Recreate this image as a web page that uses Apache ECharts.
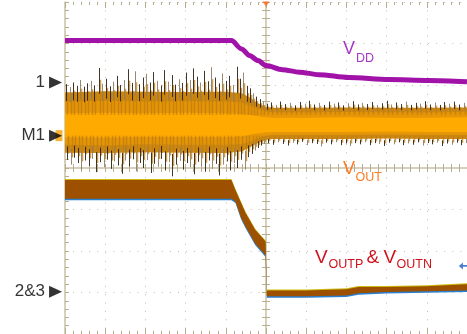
<!DOCTYPE html>
<html>
<head>
<meta charset="utf-8">
<script src="https://cdn.jsdelivr.net/npm/echarts@6/dist/echarts.min.js"></script>
<style>
  html, body { margin: 0; padding: 0; background: #ffffff; }
  #scope { width: 467px; height: 334px; }
</style>
</head>
<body>
<div id="scope"></div>
<script>
// All values are in screen divisions:
// x = time from the trigger point (-5 .. 5), y = offset from screen centre (-4 .. 4).

// VDD supply rail
const vddTime  = [-5, -0.86, -0.61, -0.41, -0.2, 0, 0.41, 0.83, 1.31, 2.06, 3.06, 4.05, 5];
const vddLevel = [3.07, 3.07, 2.87, 2.71, 2.59, 2.47, 2.37, 2.31, 2.25, 2.18, 2.13, 2.11, 2.08];

// VOUTP & VOUTN (overlapping, drawn as a thick band)
const outPNTime   = [-5, -0.86, -0.76, -0.62, -0.51, -0.27, -0.01, 0.02, 1, 2, 2.3, 3, 4, 5];
const outPNTop    = [-0.29, -0.29, -0.53, -0.84, -1.08, -1.49, -1.77, -2.95, -2.95, -2.92, -2.87, -2.87, -2.85, -2.80];
const outPNBottom = [-0.74, -0.74, -0.81, -1.20, -1.41, -1.82, -2.11, -3.09, -3.09, -3.07, -3.02, -2.99, -2.97, -2.95];

// VOUT ripple envelope (dense part of the trace)
const voutTime     = [-5, -4, -3, -2, -1, -0.6, -0.4, -0.2, 0, 0.2, 1, 2, 3, 4, 5];
const voutOuterTop = [1.82, 1.85, 1.84, 1.83, 1.84, 1.80, 1.70, 1.56, 1.47, 1.45, 1.45, 1.46, 1.45, 1.45, 1.46];
const voutOuterBot = [0.37, 0.36, 0.38, 0.37, 0.36, 0.40, 0.50, 0.60, 0.68, 0.70, 0.70, 0.70, 0.71, 0.70, 0.70];
const voutMidTop   = [1.60, 1.62, 1.60, 1.61, 1.60, 1.58, 1.50, 1.42, 1.36, 1.34, 1.34, 1.35, 1.34, 1.34, 1.35];
const voutMidBot   = [0.56, 0.55, 0.57, 0.56, 0.56, 0.58, 0.64, 0.72, 0.78, 0.80, 0.80, 0.80, 0.81, 0.80, 0.80];
const voutCoreTop  = [1.32, 1.33, 1.32, 1.33, 1.32, 1.30, 1.28, 1.25, 1.22, 1.21, 1.21, 1.22, 1.21, 1.21, 1.22];
const voutCoreBot  = [0.74, 0.73, 0.75, 0.74, 0.74, 0.76, 0.80, 0.84, 0.86, 0.87, 0.87, 0.87, 0.88, 0.87, 0.87];

// VOUT ripple peaks above the envelope [time, peak]
const voutPeaksUp = [
  [-4.97,2.02],[-4.88,1.95],[-4.80,2.06],[-4.71,1.98],[-4.62,2.12],[-4.53,1.96],[-4.45,2.04],[-4.36,2.10],
  [-4.27,1.99],[-4.16,2.41],[-4.07,2.03],[-3.98,2.15],[-3.89,1.97],[-3.80,2.08],[-3.71,2.22],[-3.62,2.00],
  [-3.53,2.12],[-3.43,2.38],[-3.34,2.05],[-3.25,2.33],[-3.16,2.02],[-3.07,2.18],[-2.98,2.27],[-2.89,2.06],
  [-2.80,2.31],[-2.71,2.10],[-2.62,1.99],[-2.53,2.36],[-2.44,2.08],[-2.35,2.24],[-2.26,2.01],[-2.17,2.14],
  [-2.08,2.05],[-1.99,2.30],[-1.90,2.12],[-1.81,2.40],[-1.72,2.20],[-1.63,2.06],[-1.54,2.34],[-1.45,2.09],
  [-1.36,2.43],[-1.27,2.18],[-1.18,2.04],[-1.09,2.28],[-1.00,2.10],[-0.91,2.22],[-0.82,2.00],[-0.73,2.44],
  [-0.64,2.15],[-0.56,2.30],[-0.48,1.98],[-0.40,1.92],[-0.32,1.80],[-0.24,1.72],[-0.16,1.66],[-0.08,1.60],
  [0.02,1.55],[0.12,1.58],[0.24,1.52],[0.36,1.60],[0.48,1.54],[0.60,1.57],[0.72,1.51],[0.84,1.59],
  [0.96,1.55],[1.08,1.62],[1.20,1.53],[1.32,1.57],[1.44,1.52],[1.56,1.60],[1.68,1.55],[1.80,1.58],
  [1.92,1.51],[2.04,1.56],[2.16,1.61],[2.28,1.53],[2.40,1.57],[2.52,1.54],[2.64,1.59],[2.76,1.52],
  [2.88,1.56],[3.00,1.62],[3.12,1.53],[3.24,1.58],[3.36,1.54],[3.48,1.60],[3.60,1.52],[3.72,1.57],
  [3.84,1.55],[3.96,1.61],[4.08,1.53],[4.20,1.58],[4.32,1.52],[4.44,1.59],[4.56,1.55],[4.68,1.60],
  [4.80,1.53],[4.92,1.57]
];

// VOUT ripple peaks below the envelope [time, peak]
const voutPeaksDown = [
  [-4.95,0.20],[-4.86,0.08],[-4.77,0.25],[-4.68,0.12],[-4.59,-0.05],[-4.50,0.18],[-4.41,0.05],[-4.32,0.22],
  [-4.22,-0.10],[-4.13,0.14],[-4.04,0.02],[-3.95,0.20],[-3.86,-0.02],[-3.77,0.16],[-3.68,0.06],[-3.59,-0.14],
  [-3.50,0.18],[-3.41,0.04],[-3.32,0.21],[-3.23,-0.08],[-3.14,0.12],[-3.05,0.00],[-2.96,0.19],[-2.87,-0.12],
  [-2.78,0.10],[-2.69,0.03],[-2.60,0.22],[-2.51,-0.06],[-2.42,0.14],[-2.33,-0.20],[-2.24,0.08],[-2.15,0.17],
  [-2.06,-0.04],[-1.97,0.12],[-1.88,0.02],[-1.79,-0.15],[-1.70,0.15],[-1.61,0.05],[-1.52,-0.09],[-1.43,0.18],
  [-1.34,-0.02],[-1.25,0.10],[-1.16,-0.18],[-1.07,0.08],[-0.98,0.16],[-0.89,-0.06],[-0.80,0.12],[-0.71,0.00],
  [-0.62,0.20],[-0.53,-0.04],[-0.44,0.26],[-0.36,0.34],[-0.28,0.42],[-0.20,0.48],[-0.12,0.54],[-0.04,0.58],
  [0.06,0.60],[0.18,0.56],[0.30,0.62],[0.42,0.58],[0.54,0.54],[0.66,0.61],[0.78,0.57],[0.90,0.63],
  [1.02,0.55],[1.14,0.60],[1.26,0.58],[1.38,0.52],[1.50,0.61],[1.62,0.57],[1.74,0.62],[1.86,0.55],
  [1.98,0.59],[2.10,0.53],[2.22,0.60],[2.34,0.57],[2.46,0.62],[2.58,0.55],[2.70,0.60],[2.82,0.58],
  [2.94,0.53],[3.06,0.61],[3.18,0.57],[3.30,0.62],[3.42,0.55],[3.54,0.59],[3.66,0.56],[3.78,0.62],
  [3.90,0.54],[4.02,0.60],[4.14,0.57],[4.26,0.61],[4.38,0.53],[4.50,0.59],[4.62,0.56],[4.74,0.61],
  [4.86,0.55],[4.98,0.60]
];

// Channel reference markers on the left edge
const markerNames = ['1', 'M1', '2&3'];
const markerLevel = [2.06, 0.78, -2.98];

const FONT = '"Liberation Sans", Arial, sans-serif';
const GRID_TAN = '#c9c1a6';
const TICK_TAN = '#b7ae90';
const DOT = '#c2bdae';

const chart = echarts.init(document.getElementById('scope'), null, { renderer: 'canvas' });

// Filled band between two traces, optionally shifted by a few pixels
function band(name, xs, tops, bots, color, z, shiftPx) {
  return {
    type: 'custom', name: name, z: z, silent: true, animation: false,
    data: xs.map((x, i) => [x, tops[i], bots[i]]),
    renderItem: function (params, api) {
      if (params.dataIndex !== 0) return null;
      const pts = [];
      for (let i = 0; i < xs.length; i++) {
        const p = api.coord([xs[i], tops[i]]);
        pts.push([p[0], p[1] + (shiftPx || 0)]);
      }
      for (let i = xs.length - 1; i >= 0; i--) {
        const p = api.coord([xs[i], bots[i]]);
        pts.push([p[0], p[1] + (shiftPx || 0)]);
      }
      return { type: 'polygon', shape: { points: pts }, style: { fill: color } };
    }
  };
}

// Ripple peaks: an orange streak from the bright core, ending in a dark hair at the peak
function peaks(name, data, start, z) {
  return {
    type: 'custom', name: name, z: z, silent: true, animation: false,
    data: data,
    renderItem: function (params, api) {
      const t = api.value(0), tip = api.value(1);
      const span = tip - start;
      const p0 = api.coord([t, start]);
      const pr = api.coord([t, start + 0.75 * span]);
      const ph = api.coord([t, start + 0.45 * span]);
      const p1 = api.coord([t, tip]);
      const x = Math.round(p0[0]) + 0.5;
      const hair = params.dataIndex % 3 === 1 ? '#8d7d60' : '#2e2010';
      return {
        type: 'group',
        children: [
          { type: 'line', shape: { x1: x + 1, y1: p0[1], x2: x + 1, y2: pr[1] }, style: { stroke: '#bf7c10', lineWidth: 1.5, opacity: 0.75 } },
          { type: 'line', shape: { x1: x, y1: ph[1], x2: x, y2: p1[1] }, style: { stroke: hair, lineWidth: 1, opacity: 0.9 } }
        ]
      };
    }
  };
}

const tickStyle = { color: TICK_TAN, width: 1 };

const option = {
  animation: false,
  backgroundColor: '#ffffff',
  grid: { left: 65, top: 2, width: 403.4, height: 334, containLabel: false, show: false },
  xAxis: [
    { // centre horizontal line, ticks downward, vertical dotted grid
      type: 'value', min: -5, max: 5, interval: 1, position: 'bottom',
      axisLine: { show: true, onZero: true, lineStyle: { color: '#d6cfbb', width: 2 } },
      axisTick: { show: true, inside: false, length: 4, lineStyle: tickStyle },
      minorTick: { show: true, splitNumber: 5, length: 4, lineStyle: tickStyle },
      axisLabel: { show: false },
      splitLine: { show: true, lineStyle: { color: DOT, width: 1, type: [1, 7.35] } }
    },
    { // centre horizontal line, ticks upward
      type: 'value', min: -5, max: 5, interval: 1, position: 'bottom',
      axisLine: { show: true, onZero: true, onZeroAxisIndex: 0, lineStyle: { color: '#d6cfbb', width: 2, opacity: 0 } },
      axisTick: { show: true, inside: true, length: 4, lineStyle: tickStyle },
      minorTick: { show: true, splitNumber: 5, length: 4, lineStyle: tickStyle },
      axisLabel: { show: false }, splitLine: { show: false }
    },
    { // top edge ticks
      type: 'value', min: -5, max: 5, interval: 1, position: 'top',
      axisLine: { show: false, onZero: false },
      axisTick: { show: true, inside: true, length: 6, lineStyle: tickStyle },
      minorTick: { show: true, splitNumber: 5, length: 3, lineStyle: tickStyle },
      axisLabel: { show: false }, splitLine: { show: false }
    },
    { // bottom edge ticks
      type: 'value', min: -5, max: 5, interval: 1, position: 'bottom',
      axisLine: { show: false, onZero: false },
      axisTick: { show: true, inside: true, length: 6, lineStyle: tickStyle },
      minorTick: { show: true, splitNumber: 5, length: 3, lineStyle: tickStyle },
      axisLabel: { show: false }, splitLine: { show: false }
    }
  ],
  yAxis: [
    { // centre vertical line, ticks to the left, horizontal dotted grid
      type: 'value', min: -4, max: 4, interval: 1, position: 'left',
      axisLine: { show: true, onZero: true, lineStyle: { color: '#d6cfbb', width: 2 } },
      axisTick: { show: true, inside: false, length: 4, lineStyle: tickStyle },
      minorTick: { show: true, splitNumber: 5, length: 4, lineStyle: tickStyle },
      axisLabel: { show: false },
      splitLine: { show: true, lineStyle: { color: DOT, width: 1, type: [1, 7.07] } }
    },
    { // centre vertical line, ticks to the right
      type: 'value', min: -4, max: 4, interval: 1, position: 'left',
      axisLine: { show: true, onZero: true, onZeroAxisIndex: 0, lineStyle: { color: '#d6cfbb', width: 2, opacity: 0 } },
      axisTick: { show: true, inside: true, length: 4, lineStyle: tickStyle },
      minorTick: { show: true, splitNumber: 5, length: 4, lineStyle: tickStyle },
      axisLabel: { show: false }, splitLine: { show: false }
    },
    { // left edge with inward ticks
      type: 'value', min: -4, max: 4, interval: 1, position: 'left',
      axisLine: { show: true, onZero: false, lineStyle: { color: GRID_TAN, width: 1.5 } },
      axisTick: { show: true, inside: true, length: 4, lineStyle: tickStyle },
      minorTick: { show: true, splitNumber: 5, length: 4, lineStyle: tickStyle },
      axisLabel: { show: false }, splitLine: { show: false }
    }
  ],
  series: [
    // VOUTP & VOUTN band with its coloured fringes
    band('VOUTN', outPNTime, outPNTop, outPNBottom, '#2a7fd0', 5, 1.5),
    band('VOUTP edge', outPNTime, outPNTop, outPNBottom, '#cdbb10', 5, -1),
    band('VOUTP', outPNTime, outPNTop, outPNBottom, '#9c5000', 6, 0),
    // VOUT ripple
    band('VOUT outer', voutTime, voutOuterTop, voutOuterBot, '#cc8712', 7, 0),
    band('VOUT mid', voutTime, voutMidTop, voutMidBot, '#e69606', 7, 0),
    band('VOUT core', voutTime, voutCoreTop, voutCoreBot, '#ffaa00', 7, 0),
    peaks('VOUT peaks up', voutPeaksUp, 1.28, 8),
    peaks('VOUT peaks down', voutPeaksDown, 0.78, 8),
    // VDD
    {
      type: 'line', name: 'VDD', z: 9, silent: true, animation: false,
      data: vddTime.map((t, i) => [t, vddLevel[i]]),
      showSymbol: false, symbol: 'none', smooth: 0.3, smoothMonotone: 'x',
      lineStyle: { color: '#a012a8', width: 5 }
    },
    // channel markers and trigger indicators
    {
      type: 'scatter', name: 'M1 flag', z: 10, silent: true, clip: false, animation: false,
      data: [[-5.15, markerLevel[1]]],
      symbol: 'rect', symbolSize: [7, 11], itemStyle: { color: '#f5a000' }
    },
    {
      type: 'scatter', name: 'markers', z: 11, silent: true, clip: false, animation: false,
      data: markerNames.map((n, i) => ({ name: n, value: [-5.235, markerLevel[i]] })),
      symbol: 'path://M0,0L12,6L0,12Z', symbolSize: [13, 12],
      itemStyle: { color: '#000000' },
      label: { show: true, position: 'left', distance: 4, formatter: '{b}',
               color: '#000000', fontSize: 17, fontFamily: FONT }
    },
    {
      type: 'scatter', name: 'trigger', z: 11, silent: true, clip: false, animation: false,
      data: [[0, 3.95]], symbol: 'path://M0,0L8,0L4,5Z', symbolSize: [7, 5],
      itemStyle: { color: '#ff6a1a' }
    },
    {
      type: 'scatter', name: 'level', z: 11, silent: true, clip: false, animation: false,
      data: [[4.92, -2.36]], symbol: 'path://M0,5L5,1L5,4L12,4L12,6L5,6L5,9Z', symbolSize: [10, 7],
      itemStyle: { color: '#1f5fc8' }
    }
  ],
  graphic: [
    { type: 'text', x: 343, y: 48.8, z: 20, style: { text: 'V', font: '18px ' + FONT, fill: '#a437c6', verticalAlign: 'middle' } },
    { type: 'text', x: 356, y: 58.7, z: 20, style: { text: 'DD', font: '12.5px ' + FONT, fill: '#a437c6', verticalAlign: 'middle' } },
    { type: 'text', x: 343, y: 168.8, z: 20, style: { text: 'V', font: '18px ' + FONT, fill: '#ff7a22', verticalAlign: 'middle' } },
    { type: 'text', x: 355.5, y: 177.7, z: 20, style: { text: 'OUT', font: '12.5px ' + FONT, fill: '#ff7a22', verticalAlign: 'middle' } },
    { type: 'text', x: 315, y: 257.9, z: 20, style: { text: 'V', font: '19px ' + FONT, fill: '#d0121c', verticalAlign: 'middle' } },
    { type: 'text', x: 328.5, y: 265, z: 20, style: { text: 'OUTP', font: '12.5px ' + FONT, fill: '#d0121c', verticalAlign: 'middle' } },
    { type: 'text', x: 366.5, y: 257.9, z: 20, style: { text: '&', font: '19px ' + FONT, fill: '#d0121c', verticalAlign: 'middle' } },
    { type: 'text', x: 383.5, y: 257.9, z: 20, style: { text: 'V', font: '19px ' + FONT, fill: '#d0121c', verticalAlign: 'middle' } },
    { type: 'text', x: 396.5, y: 265, z: 20, style: { text: 'OUTN', font: '12.5px ' + FONT, fill: '#d0121c', verticalAlign: 'middle' } }
  ]
};

chart.setOption(option);
</script>
</body>
</html>
